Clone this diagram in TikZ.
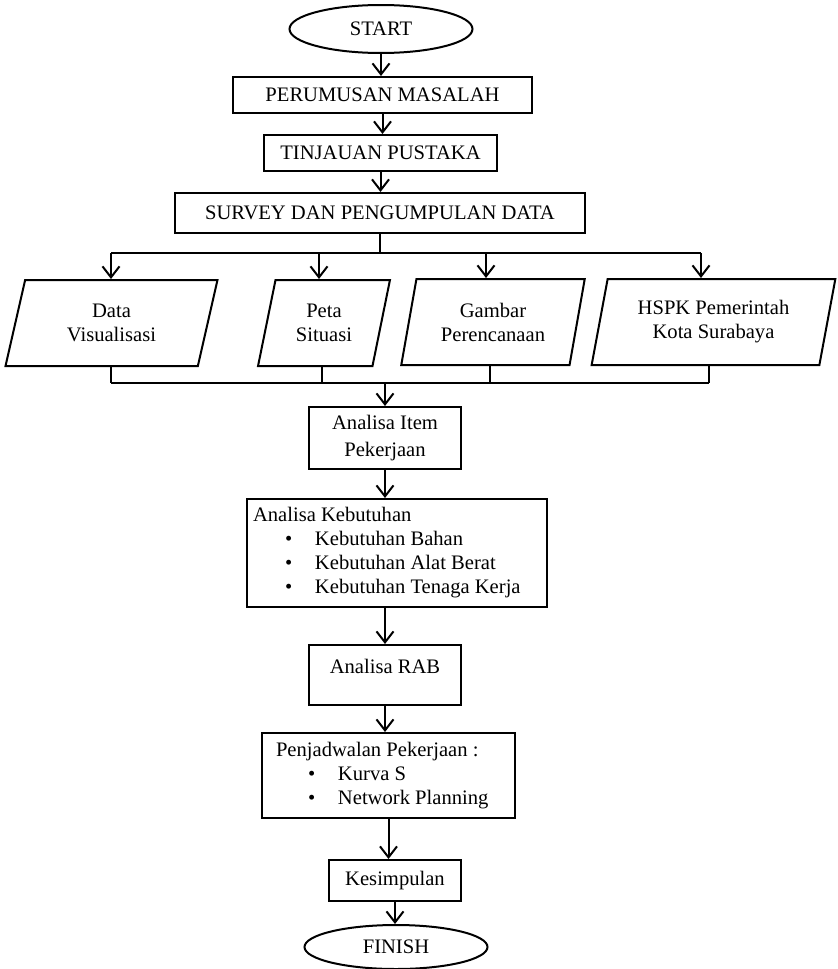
\documentclass[tikz,border=0pt]{standalone}
\usepackage{fontspec}
\setmainfont{Liberation Serif}
\usetikzlibrary{arrows.meta,shapes.geometric}
\newcommand{\itm}[1]{\makebox[31pt][l]{\hspace*{16pt}\textbullet}#1}

\begin{document}
\begin{tikzpicture}[x=0.5pt,y=-0.5pt,
  font=\fontsize{10.3}{12}\selectfont,
  blk/.style={draw,line width=1pt,rectangle,inner sep=0pt,align=center},
  trm/.style={draw,line width=1pt,ellipse,inner sep=0pt,minimum width=91.5pt,minimum height=24pt},
  io/.style={draw,line width=1pt,trapezium,trapezium left angle=75,trapezium right angle=105,
    trapezium stretches=true,inner sep=0pt,minimum height=43pt,align=center},
  ln/.style={line width=1pt},
  ar/.style={line width=1pt,-{Straight Barb[length=5.5pt,width=8.5pt]}}
]
\useasboundingbox (0,0) rectangle (837,969);
% main column
\node[trm] (start) at (381,29) {START};
\node[blk,minimum width=149.5pt,minimum height=18pt] (rumus) at (382.5,95) {PERUMUSAN MASALAH};
\node[blk,minimum width=116.5pt,minimum height=18pt] (tinjau) at (380.5,153) {TINJAUAN PUSTAKA};
\node[blk,minimum width=205pt,minimum height=20pt] (survey) at (380,213) {SURVEY DAN PENGUMPULAN DATA};
% input data
\node[io,minimum width=106.5pt] (data)   at (111.5,323) {Data\\Visualisasi};
\node[io,minimum width=66pt]    (peta)   at (324,323)   {Peta\\Situasi};
\node[io,minimum width=92pt]    (gambar) at (493,322)   {Gambar\\Perencanaan};
\node[io,minimum width=122.5pt] (hspk)   at (713.5,322) {HSPK Pemerintah\\Kota Surabaya};
% analysis
\node[blk,minimum width=76pt,minimum height=31pt] (item) at (385,438) {Analisa Item\\[1.5pt]Pekerjaan};
\node[blk,text width=144pt,inner xsep=3pt,minimum height=54pt,align=flush left] (butuh) at (397,553)
  {Analisa Kebutuhan\\\itm{Kebutuhan Bahan}\\\itm{Kebutuhan Alat Berat}\\\itm{Kebutuhan Tenaga Kerja}};
\node[blk,minimum width=76pt,minimum height=30pt,text depth=8.5pt] (rab) at (385,675) {Analisa RAB};
\node[blk,text width=112.5pt,inner xsep=7pt,minimum height=42.5pt,align=flush left] (jadwal) at (388.5,775.5)
  {Penjadwalan Pekerjaan :\\\itm{Kurva S}\\\itm{Network Planning}};
\node[blk,minimum width=66pt,minimum height=20.5pt] (simpul) at (395,880.5) {Kesimpulan};
\node[trm,minimum height=22pt] (finish) at (396,947) {FINISH};
% branch points
\coordinate (t1) at (111,253); \coordinate (t2) at (319,253);
\coordinate (t3) at (486,253); \coordinate (t4) at (701,253);
\coordinate (b1) at (111,383); \coordinate (b2) at (322,383);
\coordinate (b3) at (490,383); \coordinate (b4) at (709,383);
% connectors
\draw[ar] (start.south) -- (start.south |- rumus.north);
\draw[ar] (rumus.south) -- (rumus.south |- tinjau.north);
\draw[ar] (tinjau.south) -- (tinjau.south |- survey.north);
\draw[ln] (survey.south) -- (survey.south |- t1); \draw[ln] (t1) -- (t4);
\draw[ar] (t1) -- (t1 |- data.north); \draw[ar] (t2) -- (t2 |- peta.north);
\draw[ar] (t3) -- (t3 |- gambar.north); \draw[ar] (t4) -- (t4 |- hspk.north);
\draw[ln] (b1 |- data.south) -- (b1); \draw[ln] (b2 |- peta.south) -- (b2);
\draw[ln] (b3 |- gambar.south) -- (b3); \draw[ln] (b4 |- hspk.south) -- (b4);
\draw[ln] (b1) -- (b4);
\draw[ar] (item.north |- b1) -- (item.north);
\draw[ar] (item.south) -- (item.south |- butuh.north);
\draw[ar] (rab.north |- butuh.south) -- (rab.north);
\draw[ar] (rab.south) -- (rab.south |- jadwal.north);
\draw[ar] (jadwal.south) -- (jadwal.south |- simpul.north);
\draw[ar] (simpul.south) -- (simpul.south |- finish.north);
\end{tikzpicture}
\end{document}
